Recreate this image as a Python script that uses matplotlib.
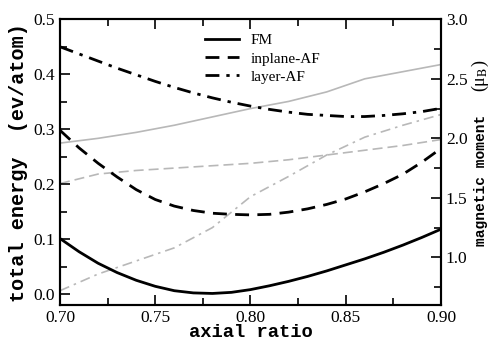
import matplotlib
matplotlib.use("Agg")
import matplotlib.pyplot as plt
from matplotlib.ticker import MultipleLocator

# axial ratio grid for the energy curves
ratio = [0.70, 0.71, 0.72, 0.73, 0.74, 0.75, 0.76, 0.77, 0.78, 0.79, 0.80,
         0.81, 0.82, 0.83, 0.84, 0.85, 0.86, 0.87, 0.88, 0.89, 0.90]

# total energies (eV/atom)
fm_energy = [0.101, 0.077, 0.056, 0.039, 0.025, 0.014, 0.006, 0.002, 0.001, 0.003, 0.008,
             0.015, 0.023, 0.032, 0.042, 0.053, 0.064, 0.076, 0.089, 0.103, 0.118]
inplane_energy = [0.298, 0.266, 0.238, 0.213, 0.190, 0.172, 0.160, 0.152, 0.147, 0.145, 0.144,
                  0.145, 0.149, 0.155, 0.163, 0.173, 0.186, 0.201, 0.218, 0.240, 0.265]
layer_energy = [0.450, 0.437, 0.424, 0.411, 0.399, 0.387, 0.376, 0.366, 0.357, 0.349, 0.342,
                0.336, 0.331, 0.327, 0.325, 0.323, 0.323, 0.325, 0.328, 0.332, 0.338]

# axial ratio grid for the moments
ratio_m = [0.70, 0.72, 0.74, 0.76, 0.78, 0.80, 0.82, 0.84, 0.86, 0.88, 0.90]

# magnetic moments (mu_B)
fm_moment = [1.96, 2.00, 2.05, 2.11, 2.18, 2.25, 2.31, 2.39, 2.50, 2.56, 2.62]
inplane_moment = [1.62, 1.70, 1.73, 1.75, 1.77, 1.79, 1.82, 1.86, 1.90, 1.94, 1.99]
layer_moment = [0.72, 0.86, 0.97, 1.08, 1.25, 1.51, 1.68, 1.86, 2.01, 2.11, 2.20]

labels = ["FM", "inplane-AF", "layer-AF"]
x_ticks = [0.70, 0.75, 0.80, 0.85, 0.90]

plt.rcParams["mathtext.fontset"] = "stix"
serif = "Liberation Serif"
mono = "Liberation Mono"

fig = plt.figure(figsize=(4.9, 3.41), dpi=100)
ax = fig.add_axes([0.1224, 0.1056, 0.7776, 0.8378])
ax2 = ax.twinx()

gray = "#b8b8b8"
ax2.plot(ratio_m, fm_moment, color=gray, lw=1.2, ls="-")
ax2.plot(ratio_m, inplane_moment, color=gray, lw=1.2, ls=(0, (6, 3)))
ax2.plot(ratio_m, layer_moment, color=gray, lw=1.2, ls=(0, (6, 3, 1.5, 3)))

l1, = ax.plot(ratio, fm_energy, color="black", lw=2.0, ls="-")
l2, = ax.plot(ratio, inplane_energy, color="black", lw=2.0, ls=(0, (5, 3)))
l3, = ax.plot(ratio, layer_energy, color="black", lw=2.0, ls=(0, (5, 2.5, 1.2, 2.5)))
ax.set_zorder(ax2.get_zorder() + 1)
ax.patch.set_visible(False)

ax.set_xlim(0.70, 0.90)
ax.set_ylim(-0.02, 0.5)
ax2.set_ylim(0.6, 3.0)

ax.set_xticks(x_ticks)
ax.set_xticklabels([f"{t:.2f}" for t in x_ticks])
ax.xaxis.set_minor_locator(MultipleLocator(0.025))
ax.yaxis.set_major_locator(MultipleLocator(0.1))
ax.yaxis.set_minor_locator(MultipleLocator(0.05))
ax2.yaxis.set_major_locator(MultipleLocator(0.5))
ax2.yaxis.set_minor_locator(MultipleLocator(0.25))

for a in (ax, ax2):
    for s in a.spines.values():
        s.set_linewidth(1.5)
    a.tick_params(which="both", direction="in", width=1.2, labelsize=12.5)
    a.tick_params(which="major", length=7)
    a.tick_params(which="minor", length=5)
    for lab in a.get_xticklabels() + a.get_yticklabels():
        lab.set_family(serif)
ax.tick_params(which="both", top=True, right=False)
ax2.tick_params(which="both", left=False, right=True)

ax.set_xlabel("axial ratio", family=mono, weight="bold", fontsize=13.5, labelpad=-1)
ax.set_ylabel("total energy  (ev/atom)", family=mono, weight="bold", fontsize=14.5, labelpad=4)

# right-hand axis title: bold monospace words plus serif unit
fig.text(481 / 490, 1 - 180 / 341, "magnetic moment", rotation=90, ha="center", va="center",
         family=mono, weight="bold", fontsize=10.5)
fig.text(480 / 490, 1 - 76 / 341, "(μ$_{\\mathrm{B}}$)", rotation=90, ha="center", va="center",
         family=serif, fontsize=13)

ax.legend([l1, l2, l3], labels, loc="upper left", bbox_to_anchor=(0.381, 0.95),
          frameon=False, borderpad=0, borderaxespad=0, handlelength=2.2,
          handletextpad=0.8, labelspacing=0.3, prop={"family": serif, "size": 11})

fig.savefig("out.png", dpi=100)
